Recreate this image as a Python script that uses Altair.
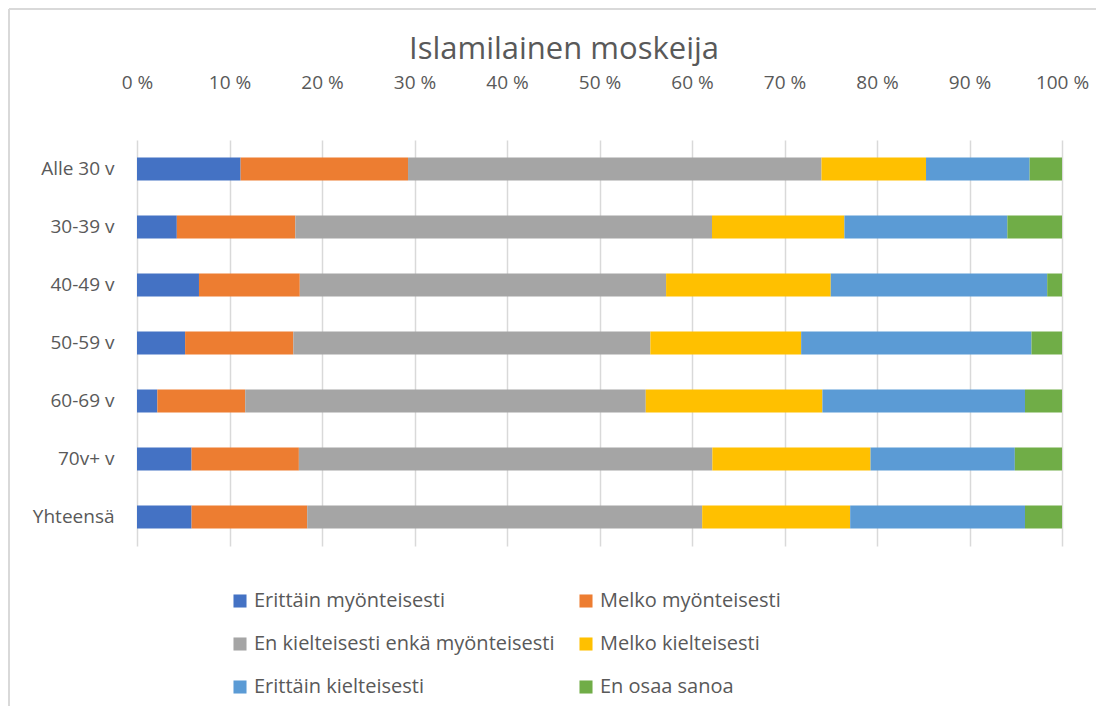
import altair as alt
import pandas as pd

groups = ["Alle 30 v", "30-39 v", "40-49 v", "50-59 v", "60-69 v", "70v+ v", "Yhteensä"]
categories = [
    "Erittäin myönteisesti",
    "Melko myönteisesti",
    "En kielteisesti enkä myönteisesti",
    "Melko kielteisesti",
    "Erittäin kielteisesti",
    "En osaa sanoa",
]
colors = ["#4472C4", "#ED7D31", "#A5A5A5", "#FFC000", "#5B9BD5", "#70AD47"]
title_text = "Islamilainen moskeija"

erittain_myont = [11.2, 4.3, 6.7, 5.2, 2.2, 5.9, 5.9]
melko_myont = [18.1, 12.8, 10.9, 11.7, 9.5, 11.6, 12.5]
neutral = [44.7, 45.0, 39.6, 38.6, 43.3, 44.7, 42.7]
melko_kielt = [11.3, 14.3, 17.8, 16.3, 19.1, 17.1, 16.0]
erittain_kielt = [11.2, 17.6, 23.4, 24.9, 21.9, 15.6, 18.9]
en_osaa = [3.5, 5.9, 1.6, 3.3, 4.0, 5.1, 4.0]

series = [erittain_myont, melko_myont, neutral, melko_kielt, erittain_kielt, en_osaa]

rows = []
for ci, (cat, vals) in enumerate(zip(categories, series)):
    for g, v in zip(groups, vals):
        rows.append({"group": g, "category": cat, "value": v, "order": ci})
df = pd.DataFrame(rows)

# legend fills column-major; reorder so it reads row-major like the original
leg_idx = [0, 2, 4, 1, 3, 5]
leg_domain = [categories[i] for i in leg_idx]
leg_range = [colors[i] for i in leg_idx]

FONT = "Open Sans"
TXT = "#595959"

bars = alt.Chart(df).mark_bar(size=23).encode(
    y=alt.Y("group:N", sort=groups, title=None,
            axis=alt.Axis(labelPadding=23, ticks=False, domain=False,
                          labelFontSize=19, labelColor=TXT, labelFont=FONT)),
    x=alt.X("value:Q", stack="normalize", title=None,
            scale=alt.Scale(domain=[0, 1], nice=False),
            axis=alt.Axis(orient="top", values=[i / 10 for i in range(11)],
                          labelExpr="round(datum.value*100) + ' %'",
                          labelFlush=False, labelOverlap=False,
                          grid=True, gridColor="#d9d9d9", gridWidth=1.5,
                          ticks=False, domain=False, labelPadding=48,
                          labelFontSize=19, labelColor=TXT, labelFont=FONT)),
    color=alt.Color("category:N",
                    scale=alt.Scale(domain=leg_domain, range=leg_range),
                    legend=alt.Legend(title=None, orient="none", legendX=93, legendY=451,
                                      columns=2, columnPadding=21, rowPadding=23,
                                      symbolType="square", symbolSize=170,
                                      symbolStrokeWidth=0, labelFontSize=20,
                                      labelColor=TXT, labelFont=FONT, labelLimit=400)),
    order=alt.Order("order:Q"),
)

title_df = pd.DataFrame({"t": [title_text]})
title = alt.Chart(title_df).mark_text(fontSize=31, font=FONT, color=TXT,
                                      align="center", baseline="middle").encode(
    text="t:N", x=alt.value(427), y=alt.value(-90))

frame_left = alt.Chart(title_df).mark_rule(color="#d9d9d9", strokeWidth=2).encode(
    x=alt.value(-128), y=alt.value(-131), y2=alt.value(580))
frame_top = alt.Chart(title_df).mark_rule(color="#d9d9d9", strokeWidth=2).encode(
    x=alt.value(-128), x2=alt.value(980), y=alt.value(-131))

chart = alt.layer(bars, title, frame_left, frame_top).properties(
    width=925, height=406,
    autosize=alt.AutoSizeParams(type="none"),
    padding={"left": 129, "top": 132, "right": 34, "bottom": 160},
).configure_view(stroke=None)

chart.save("out.html", embed_options={"renderer": "svg", "actions": False})
